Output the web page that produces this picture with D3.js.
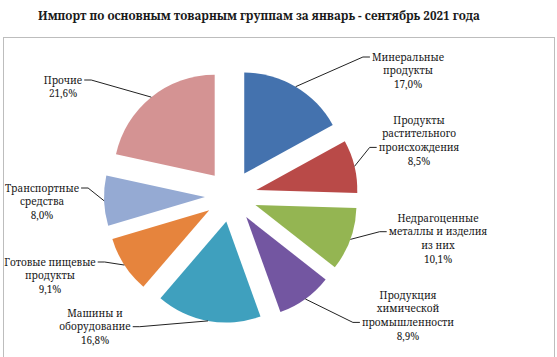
<!DOCTYPE html>
<html><head><meta charset="utf-8">
<script src="https://cdn.jsdelivr.net/npm/d3@7"></script>
<style>
html,body{margin:0;padding:0;background:#fff;}
svg{display:block;}
</style></head>
<body>
<svg id="chart" width="557" height="357"></svg>
<script>
// ---- data ----
const categories = [
  "Минеральные продукты",
  "Продукты растительного происхождения",
  "Недрагоценные металлы и изделия из них",
  "Продукция химической промышленности",
  "Машины и оборудование",
  "Готовые пищевые продукты",
  "Транспортные средства",
  "Прочие"
];
const values = [17.0, 8.5, 10.1, 8.9, 16.8, 9.1, 8.0, 21.6];
const valueLabels = ["17,0%", "8,5%", "10,1%", "8,9%", "16,8%", "9,1%", "8,0%", "21,6%"];
const labelLines = [
  ["Минеральные", "продукты"],
  ["Продукты", "растительного", "происхождения"],
  ["Недрагоценные", "металлы и изделия", "из них"],
  ["Продукция", "химической", "промышленности"],
  ["Машины и", "оборудование"],
  ["Готовые пищевые", "продукты"],
  ["Транспортные", "средства"],
  ["Прочие"]
];
const title = "Импорт по основным товарным группам за январь - сентябрь 2021 года";

// ---- layout / style ----
const FONT = "'Noto Serif', 'DejaVu Serif', serif";
const colors = ["#4472AE", "#B94A48", "#94B552", "#7356A1", "#3FA0BE", "#E6843D", "#95AAD3", "#D49393"];
const cx = 231, cy = 196, R = 101, explode = 26;
const labelLayout = [
  {x: 408, y: 57,  attach: 0},
  {x: 419, y: 120, attach: 2},
  {x: 438, y: 218, attach: 1},
  {x: 408, y: 295, attach: 2},
  {x: 95,  y: 313, attach: 1},
  {x: 50,  y: 262, attach: 0},
  {x: 42,  y: 188, attach: 0},
  {x: 63,  y: 80,  attach: 0}
];
const lineH = 13.7;
const labelSize = 10;
const titleWidth = 442;

const svg = d3.select("#chart").attr("font-family", FONT);

svg.append("rect").attr("x", 3.5).attr("y", 37.5).attr("width", 551).attr("height", 330)
  .attr("fill", "none").attr("stroke", "#bdbdbd").attr("stroke-width", 1);

const titleEl = svg.append("text").attr("x", 259).attr("y", 20).attr("text-anchor", "middle")
  .attr("fill", "#1a1a1a").attr("font-size", 12).attr("font-weight", "bold").text(title);
const tw = titleEl.node().getComputedTextLength();
titleEl.attr("font-size", (12 * titleWidth / tw).toFixed(2));

const pie = d3.pie().sort(null).value(d => d);
const arcs = pie(values);
const arc = d3.arc().innerRadius(0).outerRadius(R);

const g = svg.append("g").attr("transform", `translate(${cx},${cy})`);

function offset(a) {
  const m = (a.startAngle + a.endAngle) / 2;
  return [Math.sin(m) * explode, -Math.cos(m) * explode];
}

g.selectAll("path.slice").data(arcs).join("path")
  .attr("class", "slice")
  .attr("d", arc)
  .attr("fill", (d, i) => colors[i])
  .attr("transform", d => { const o = offset(d); return `translate(${o[0]},${o[1]})`; });

const lblG = svg.append("g");
arcs.forEach((a, i) => {
  const L = labelLayout[i];
  const lines = labelLines[i].concat([valueLabels[i]]);
  const t = lblG.append("text").attr("font-size", labelSize).attr("text-anchor", "middle")
    .attr("fill", "#1a1a1a");
  const tspans = [];
  lines.forEach((ln, k) => {
    tspans.push(t.append("tspan").attr("x", L.x).attr("y", L.y + k * lineH + 3.5).text(ln));
  });
  const m = (a.startAngle + a.endAngle) / 2;
  const o = offset(a);
  const sx = cx + o[0] + Math.sin(m) * R;
  const sy = cy + o[1] - Math.cos(m) * R;
  const w = tspans[L.attach].node().getComputedTextLength();
  const right = sx > cx;
  const ay = L.y + L.attach * lineH;
  const ax = right ? L.x - w / 2 - 2 : L.x + w / 2 + 2;
  const ex = right ? ax - 7 : ax + 7;
  lblG.append("path")
    .attr("d", `M${sx},${sy}L${ex},${ay}L${ax},${ay}`)
    .attr("fill", "none").attr("stroke", "#222").attr("stroke-width", 1);
});
</script>
</body></html>
